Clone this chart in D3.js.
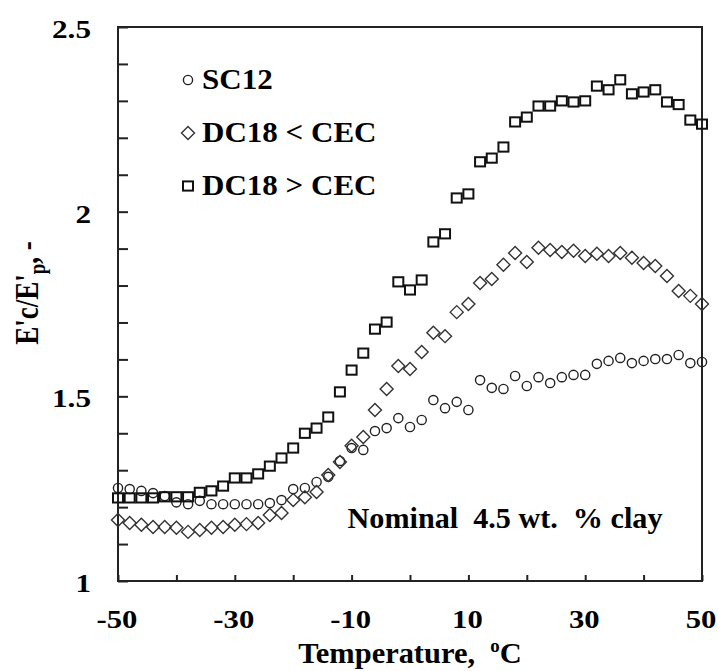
<!DOCTYPE html>
<html>
<head>
<meta charset="utf-8">
<script src="https://cdn.jsdelivr.net/npm/d3@7"></script>
<style>
  body { margin: 0; background: #fff; }
  svg text { font-family: "Liberation Serif", Tinos, "Times New Roman", Times, "DejaVu Serif", serif; font-weight: bold; fill: #000; white-space: pre; }
</style>
</head>
<body>
<div id="chart"></div>
<script>
// temperatures (deg C), same grid for all three samples
var temps = [-50, -48, -46, -44, -42, -40, -38, -36, -34, -32, -30, -28, -26, -24, -22, -20, -18, -16, -14, -12, -10,
  -8, -6, -4, -2, 0, 2, 4, 6, 8, 10, 12, 14, 16, 18, 20, 22, 24, 26, 28, 30, 32, 34, 36, 38, 40, 42, 44, 46, 48, 50]

// E'c/E'p
var sc12 = [1.252, 1.249, 1.244, 1.238, 1.23, 1.213, 1.208, 1.217, 1.208, 1.208, 1.208, 1.208, 1.208, 1.211, 1.219,
  1.249, 1.252, 1.268, 1.282, 1.325, 1.36, 1.355, 1.406, 1.414, 1.441, 1.417, 1.436, 1.49, 1.468, 1.485, 1.463,
  1.544, 1.523, 1.52, 1.555, 1.528, 1.552, 1.536, 1.552, 1.558, 1.558, 1.588, 1.596, 1.604, 1.59, 1.596, 1.601,
  1.601, 1.612, 1.59, 1.593]

var dc18Low = [1.165, 1.157, 1.152, 1.146, 1.146, 1.144, 1.133, 1.138, 1.144, 1.146, 1.152, 1.154, 1.157, 1.179,
  1.184, 1.219, 1.227, 1.241, 1.287, 1.322, 1.366, 1.39, 1.463, 1.52, 1.582, 1.574, 1.62, 1.672, 1.663, 1.728,
  1.75, 1.807, 1.818, 1.856, 1.888, 1.864, 1.902, 1.896, 1.891, 1.894, 1.88, 1.886, 1.88, 1.888, 1.875, 1.861,
  1.853, 1.826, 1.785, 1.772, 1.75]

var dc18High = [1.225, 1.225, 1.225, 1.225, 1.228, 1.228, 1.228, 1.24, 1.244, 1.257, 1.279, 1.279, 1.29, 1.311,
  1.333, 1.36, 1.40, 1.414, 1.444, 1.512, 1.571, 1.617, 1.682, 1.701, 1.81, 1.788, 1.815, 1.918, 1.94, 2.037,
  2.048, 2.135, 2.145, 2.175, 2.243, 2.256, 2.286, 2.286, 2.30, 2.297, 2.30, 2.34, 2.33, 2.357, 2.319, 2.324,
  2.33, 2.297, 2.29, 2.248, 2.237]

var seriesNames = ["SC12", "DC18 < CEC", "DC18 > CEC"]
var xLabelTicks = [-50, -30, -10, 10, 30, 50]
var yLabelTicks = [1, 1.5, 2, 2.5]

var width = 718
var height = 671
var serif = "'Liberation Serif', Tinos, 'Times New Roman', Times, 'DejaVu Serif', serif"

var svg = d3.select("#chart").append("svg")
  .attr("width", width)
  .attr("height", height)

var x = d3.scaleLinear().domain([-50, 50]).range([118, 702])
var y = d3.scaleLinear().domain([1, 2.5]).range([581, 27])

// ticks point inward, no domain line (frame drawn below)
var xAxis = svg.append("g")
  .attr("transform", "translate(0," + y(1) + ")")
  .call(d3.axisBottom(x).tickValues(d3.range(-50, 51, 10)).tickSize(-6).tickFormat(""))
var yAxis = svg.append("g")
  .attr("transform", "translate(" + x(-50) + ",0)")
  .call(d3.axisLeft(y).tickValues(d3.range(10, 26).map(function(d) { return d / 10 })).tickSize(-10).tickFormat(""))
svg.selectAll(".domain").remove()
svg.selectAll(".tick line").attr("stroke", "#222").attr("stroke-width", 2)

svg.append("rect")
  .attr("x", x(-50)).attr("y", y(2.5))
  .attr("width", x(50) - x(-50)).attr("height", y(1) - y(2.5))
  .attr("fill", "none").attr("stroke", "#222").attr("stroke-width", 2)

// helper: text that is a bit wider than the font (picture was stretched)
function wideText(tx, ty, sx, str, size, anchor) {
  return svg.append("g")
    .attr("transform", "translate(" + tx + "," + ty + ") scale(" + sx + ",1)")
    .append("text")
    .attr("text-anchor", anchor)
    .attr("font-family", serif)
    .attr("font-weight", "bold")
    .style("font-size", size + "px")
    .text(str)
}

xLabelTicks.forEach(function(t) {
  wideText(x(t) - 1, 628, 1.18, t, 26, "middle")
})
yLabelTicks.forEach(function(v) {
  wideText(91, y(v) + 11, 1.2, v, 26, "end")
})

// axis titles
var xt = wideText(410, 663, 1.05, "Temperature,  ", 29, "middle")
xt.append("tspan").attr("dy", -11).style("font-size", "18px").text("o")
xt.append("tspan").attr("dy", 11).text("C")

var yt = svg.append("g")
  .attr("transform", "translate(38,293) rotate(-90) scale(0.82,1)")
  .append("text")
  .attr("text-anchor", "middle")
  .attr("font-family", serif)
  .attr("font-weight", "bold")
  .style("font-size", "33px")
  .text("E'c/E'")
yt.append("tspan").attr("dy", 7).style("font-size", "23px").text("p")
yt.append("tspan").attr("dy", -7).text(", -")

wideText(505, 528, 1.04, "Nominal  4.5 wt.  % clay", 29, "middle")

// markers
var symCircle = function(g) { g.append("circle").attr("r", 4.6) }
var symDiamond = function(g) { g.append("path").attr("d", "M0,-6.5L6.5,0L0,6.5L-6.5,0Z") }
var symSquare = function(g) { g.append("rect").attr("x", -5).attr("y", -4.6).attr("width", 10).attr("height", 9.2) }

var series = [
  { name: seriesNames[0], values: sc12, sym: symCircle, stroke: "#222", sw: 1.4 },
  { name: seriesNames[1], values: dc18Low, sym: symDiamond, stroke: "#333", sw: 1.4 },
  { name: seriesNames[2], values: dc18High, sym: symSquare, stroke: "#111", sw: 2 }
]

series.forEach(function(s) {
  var pts = svg.append("g")
    .attr("fill", "none")
    .attr("stroke", s.stroke)
    .attr("stroke-width", s.sw)
    .selectAll("g")
    .data(temps.map(function(t, i) { return [t, s.values[i]] }))
    .enter()
    .append("g")
    .attr("transform", function(d) { return "translate(" + x(d[0]) + "," + y(d[1]) + ")" })
  pts.each(function() { s.sym(d3.select(this)) })
})

// legend
var legendY = [80, 133, 186]
series.forEach(function(s, i) {
  var m = svg.append("g")
    .attr("transform", "translate(188," + legendY[i] + ")")
    .attr("fill", "none").attr("stroke", s.stroke).attr("stroke-width", s.sw)
  s.sym(m)
  wideText(202, legendY[i] + 9, 1.07, s.name, 29, "start")
})
</script>
</body>
</html>
